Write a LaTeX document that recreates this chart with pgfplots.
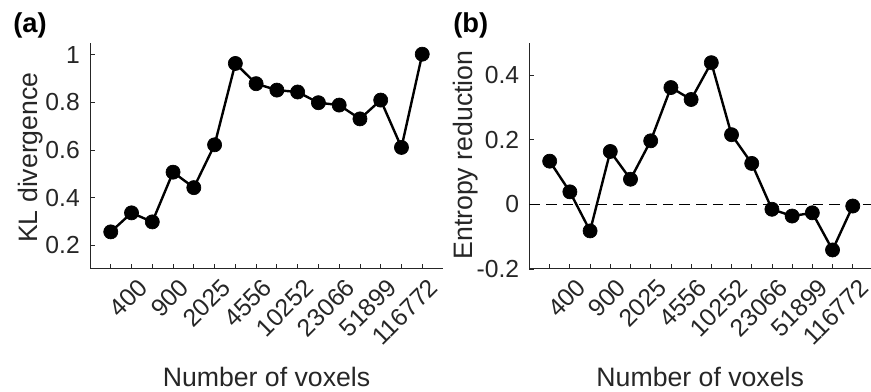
\documentclass[border=0pt]{standalone}
\usepackage{pgfplots}
\pgfplotsset{compat=1.18}
\usepackage{fontspec}
\setmainfont{Liberation Sans}
\definecolor{axgray}{rgb}{0.15,0.15,0.15}

\pgfplotsset{
  panel/.style={
    scale only axis,
    anchor=south west,
    height=169.5pt,
    axis lines=left,
    axis line style={-, line width=0.75pt, draw=axgray},
    tick align=inside,
    major tick length=3.75pt,
    tick style={line width=0.6pt, draw=axgray},
    xmin=0,
    xtick={1,...,16},
    xticklabels={,400,,900,,2025,,4556,,10252,,23066,,51899,,116772},
    /pgf/number format/assume math mode=true,
    tick label style={font=\fontsize{18.5}{20}\selectfont, text=axgray},
    xticklabel style={inner sep=0pt, xshift=3.8pt, yshift=-6pt, rotate=45, anchor=north east},
    yticklabel style={inner sep=0pt, xshift=-7.5pt, anchor=east},
    xlabel={Number of voxels},
    every axis x label/.style={at={(axis description cs:0.5,-0.522)}, anchor=base, inner sep=0pt,
      font=\fontsize{20}{22}\selectfont, text=axgray},
    every axis title/.style={anchor=base west, inner sep=0pt, font=\fontsize{20.5}{22}\selectfont\bfseries},
  },
  dataline/.style={black, line width=1.8pt, mark=*, mark size=5.3pt,
    mark options={fill=black, line width=0.5pt}},
}

\begin{document}
\begin{tikzpicture}
\useasboundingbox (0,0) rectangle (653.25pt,294pt);

\begin{axis}[panel,
  at={(67.5pt,92.25pt)}, width=264.75pt,
  xmax=17, ymin=0.1, ymax=1.05,
  ytick={0.2,0.4,0.6,0.8,1}, yticklabels={0.2,0.4,0.6,0.8,1},
  ylabel={KL divergence},
  every axis y label/.style={at={(axis description cs:-0.150,0.493)}, rotate=90, anchor=base,
    inner sep=0pt, font=\fontsize{20}{22}\selectfont, text=axgray},
  title={(a)},
  title style={at={(axis description cs:-0.218,1.046)}},
]
\addplot[dataline] coordinates {
(1,0.256) (2,0.336) (3,0.298) (4,0.507) (5,0.442) (6,0.622) (7,0.964) (8,0.879)
(9,0.852) (10,0.844) (11,0.799) (12,0.789) (13,0.731) (14,0.810) (15,0.611) (16,1.003)
};
\end{axis}

\begin{axis}[panel,
  at={(397.1pt,92.25pt)}, width=256.1pt,
  xmax=16.9, ymin=-0.2, ymax=0.5,
  ytick={-0.2,0,0.2,0.4}, yticklabels={-0.2,0,0.2,0.4},
  ylabel={Entropy reduction},
  every axis y label/.style={at={(axis description cs:-0.168,0.504)}, rotate=90, anchor=base,
    inner sep=0pt, font=\fontsize{20}{22}\selectfont, text=axgray},
  title={(b)},
  title style={at={(axis description cs:-0.224,1.046)}},
]
\addplot[black, line width=1.3pt, dash pattern=on 8pt off 4.5pt, forget plot] coordinates {(0,0) (17,0)};
\addplot[dataline] coordinates {
(1,0.134) (2,0.039) (3,-0.082) (4,0.164) (5,0.078) (6,0.197) (7,0.362) (8,0.325)
(9,0.439) (10,0.216) (11,0.127) (12,-0.015) (13,-0.036) (14,-0.026) (15,-0.141) (16,-0.005)
};
\end{axis}
\end{tikzpicture}
\end{document}
